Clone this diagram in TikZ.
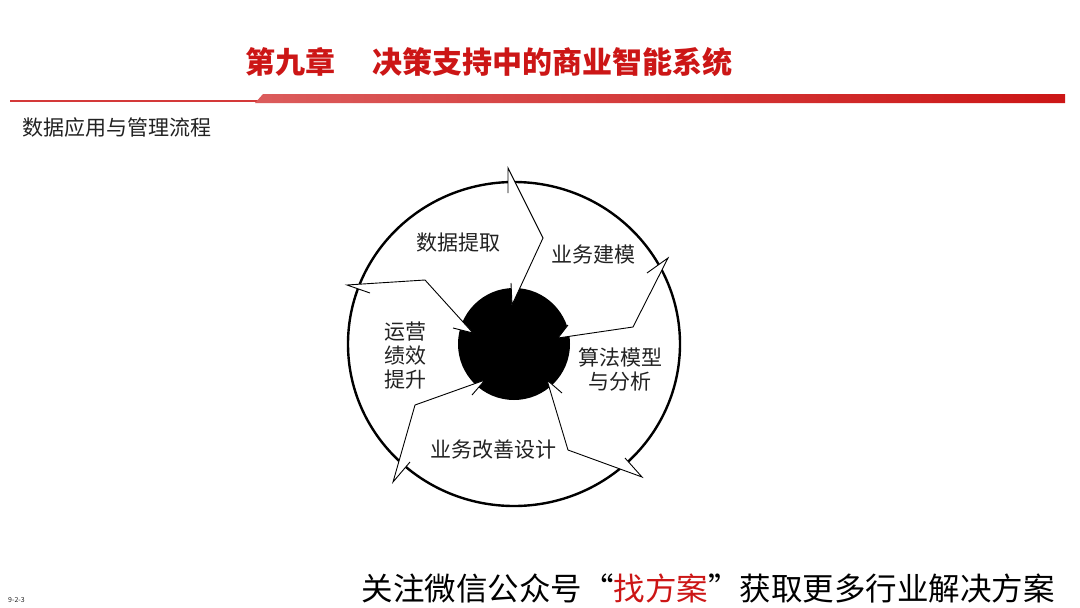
\documentclass[tikz,border=0pt]{standalone}
\usepackage{fontspec}
\setmainfont{Noto Sans CJK SC}
\usetikzlibrary{calc}
\definecolor{chapred}{RGB}{204,22,22}
\definecolor{inktext}{RGB}{34,34,34}

\begin{document}
\begin{tikzpicture}[x=1pt,y=-1pt,
  lbl/.style={font=\fontsize{21}{24}\selectfont,text=inktext,align=center,inner sep=0pt},
  sep/.style={draw=black,line width=0.9pt,line join=miter}]
\def\cx{514}
\def\cy{344}
\useasboundingbox (0,0) rectangle (1080,608);

% header
\draw[chapred!85,line width=2pt] (10,101) -- (258,101);
\shade[left color=chapred!70,right color=chapred] (255,103) -- (263,94) -- (1065,94) -- (1065,103) -- cycle;
\path
(245,62) node[anchor=west,font=\fontsize{30}{34}\selectfont\bfseries,text=chapred,inner sep=0pt] (title) {第九章\hspace{1.25em}决策支持中的商业智能系统}
(22,128) node[anchor=west,font=\fontsize{21}{24}\selectfont,text=inktext,inner sep=0pt] (subtitle) {数据应用与管理流程}
;

% wheel
\draw[line width=2.4pt] (\cx,\cy) ellipse [x radius=166,y radius=162];
\fill[black] (\cx,\cy) circle [radius=56];

% separators: outer barb, outer tip, bend, inner tip, inner barb
\path
(508,193) coordinate (aOb) (508,168) coordinate (aOt) (543,238) coordinate (aB) (512,305) coordinate (aIt) (511,283) coordinate (aIb)
(647,273) coordinate (bOb) (668,258) coordinate (bOt) (633,327) coordinate (bB) (558,338) coordinate (bIt) (568,325) coordinate (bIb)
(625,458) coordinate (cOb) (642,477) coordinate (cOt) (568,450) coordinate (cB) (547,380) coordinate (cIt) (562,393) coordinate (cIb)
(410,462) coordinate (dOb) (393,482) coordinate (dOt) (415,405) coordinate (dB) (485,380) coordinate (dIt) (472,395) coordinate (dIb)
(370,293) coordinate (eOb) (347,285) coordinate (eOt) (425,280) coordinate (eB) (473,333) coordinate (eIt) (453,328) coordinate (eIb)
;

\foreach \s in {a,b,c,d,e} {
  \fill[white] (\s Ob) -- (\s Ot) -- ($(\s Ot)!26pt!(\s B)$) -- cycle;
  \fill[white] (\s Ib) -- (\s It) -- ($(\s It)!22pt!(\s B)$) -- cycle;
  \draw[sep] (\s Ob) -- (\s Ot) -- (\s B) -- (\s It) -- (\s Ib);
}

% stage labels
\path
(458,243) node[lbl] (extract) {数据提取}
(593,255) node[lbl] (model) {业务建模}
(620,369) node[lbl] (algo) {算法模型\\与分析}
(493,450) node[lbl] (improve) {业务改善设计}
(405,356) node[lbl] (perf) {运营\\绩效\\提升}
;

% footer
\path
(1055,588) node[anchor=east,font=\fontsize{31.5}{34}\selectfont,text=black,inner sep=0pt] (footer) {关注微信公众号“\textcolor{chapred}{找方案}”获取更多行业解决方案}
(8,600) node[anchor=west,font=\fontsize{7}{8}\selectfont,text=inktext,inner sep=0pt] (pageno) {9-2-3}
;
\end{tikzpicture}
\end{document}
